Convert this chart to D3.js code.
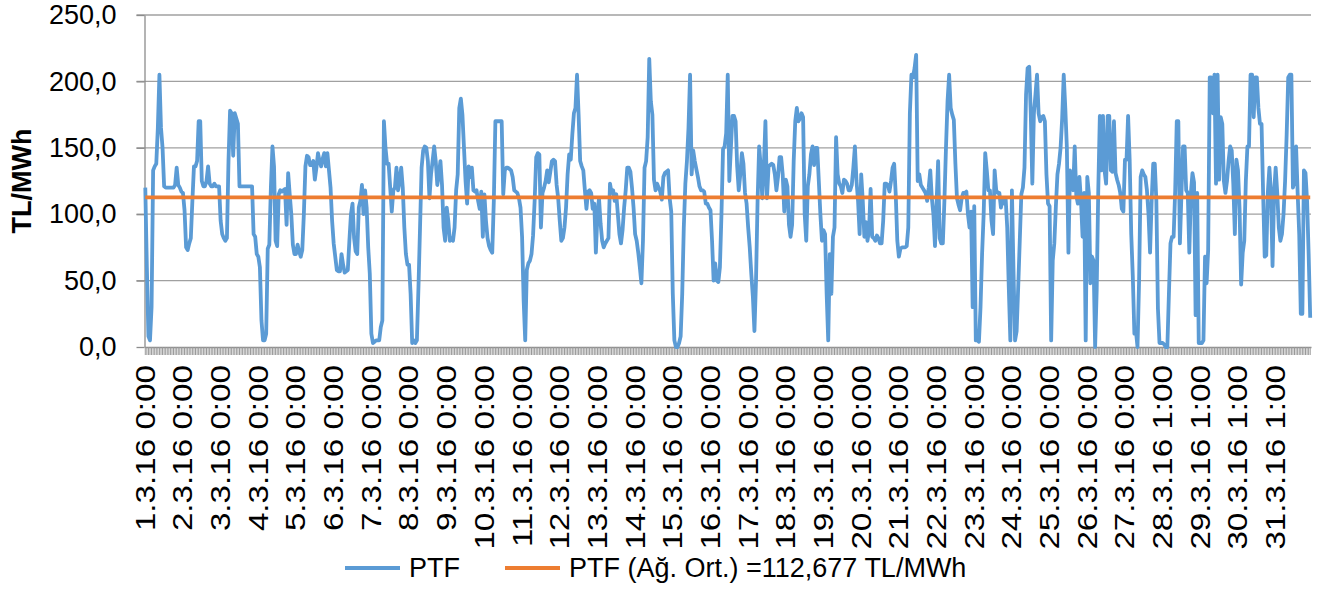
<!DOCTYPE html>
<html>
<head>
<meta charset="utf-8">
<script src="https://cdn.jsdelivr.net/npm/d3@7"></script>
<style>
  body { margin: 0; background: #fff; }
  text { font-family: "Liberation Sans", Arial, sans-serif; fill: #000; }
</style>
</head>
<body>
<div id="chart"></div>
<script>
// hourly PTF, March 2016 (one row per 24 categories, 27.3 has 23 hours)
const ptf = [
  120, 60, 8, 5, 30, 133, 136, 138, 165, 205, 165, 150, 121, 120, 120, 120, 120, 120, 120, 122, 135, 122, 120, 117,
  116, 103, 75, 73, 78, 82, 110, 136, 136, 140, 170, 170, 125, 121, 121, 125, 136, 123, 121, 121, 123, 121, 121, 121,
  95, 85, 82, 80, 82, 140, 178, 176, 144, 176, 172, 168, 121, 121, 121, 121, 121, 121, 121, 121, 121, 85, 83, 70,
  68, 60, 20, 5, 5, 10, 74, 77, 120, 151, 136, 80, 76, 115, 118, 117, 118, 119, 92, 131, 115, 100, 77, 70,
  70, 77, 72, 68, 73, 100, 136, 144, 143, 137, 137, 140, 126, 135, 146, 140, 136, 142, 146, 136, 146, 133, 120, 95,
  78, 68, 58, 57, 57, 70, 62, 56, 57, 58, 80, 100, 108, 82, 72, 70, 105, 110, 122, 100, 118, 105, 75, 55,
  10, 3, 4, 5, 5, 5, 15, 20, 170, 150, 138, 138, 120, 102, 118, 120, 135, 118, 125, 135, 120, 90, 70, 62,
  62, 40, 3, 5, 3, 5, 45, 90, 135, 148, 151, 150, 140, 112, 130, 140, 151, 140, 122, 130, 140, 122, 90, 80,
  105, 95, 80, 82, 80, 90, 118, 130, 180, 187, 175, 150, 125, 108, 136, 128, 135, 118, 117, 118, 110, 104, 117, 83,
  115, 95, 82, 76, 73, 71, 110, 170, 170, 170, 170, 170, 115, 133, 135, 135, 134, 133, 128, 118, 117, 116, 112, 105,
  83, 35, 5, 58, 63, 65, 70, 84, 110, 143, 146, 145, 90, 116, 120, 125, 133, 124, 132, 140, 141, 140, 122, 112,
  95, 80, 82, 90, 105, 130, 145, 141, 160, 176, 180, 205, 175, 140, 136, 133, 118, 104, 117, 118, 116, 104, 108, 71,
  100, 112, 93, 80, 75, 78, 80, 82, 123, 116, 118, 110, 115, 100, 85, 78, 88, 105, 118, 135, 135, 132, 120, 105,
  85, 80, 71, 60, 48, 80, 135, 140, 158, 217, 185, 175, 126, 118, 123, 120, 117, 111, 128, 131, 132, 133, 112, 102,
  40, 5, 0, 0, 3, 8, 40, 90, 123, 140, 165, 205, 130, 148, 140, 134, 128, 121, 118, 118, 117, 108, 108, 105,
  103, 80, 50, 63, 50, 49, 60, 100, 149, 151, 161, 205, 125, 150, 174, 174, 170, 136, 118, 130, 146, 138, 116, 108,
  90, 75, 55, 38, 12, 50, 110, 151, 136, 112, 136, 170, 112, 136, 137, 138, 137, 130, 118, 128, 143, 143, 130, 102,
  126, 121, 92, 83, 92, 140, 170, 180, 170, 172, 176, 173, 100, 80, 121, 130, 145, 151, 137, 150, 150, 125, 100, 80,
  88, 85, 40, 5, 70, 40, 83, 90, 158, 130, 123, 121, 116, 126, 125, 123, 118, 118, 122, 135, 151, 125, 110, 85,
  130, 110, 83, 94, 80, 88, 119, 83, 82, 80, 84, 82, 78, 78, 95, 123, 123, 122, 117, 125, 135, 138, 115, 80,
  68, 74, 75, 75, 75, 76, 90, 176, 205, 203, 210, 220, 125, 130, 122, 120, 118, 116, 110, 120, 133, 112, 100, 76,
  108, 140, 82, 78, 78, 110, 150, 185, 205, 180, 175, 171, 138, 112, 107, 103, 112, 116, 116, 117, 100, 90, 102, 30,
  106, 5, 5, 4, 30, 70, 100, 146, 133, 118, 118, 95, 85, 133, 118, 116, 116, 105, 112, 108, 112, 90, 45, 5,
  118, 58, 5, 12, 45, 80, 115, 120, 135, 190, 210, 211, 176, 123, 176, 190, 205, 176, 170, 173, 174, 170, 130, 108,
  106, 5, 65, 78, 106, 130, 138, 150, 172, 205, 180, 150, 71, 133, 122, 118, 151, 114, 108, 128, 110, 83, 116, 5,
  128, 116, 48, 68, 65, 0, 43, 118, 174, 133, 174, 133, 123, 174, 174, 133, 132, 170, 131, 126, 122, 116, 104, 102,
  141, 141, 174, 141, 85, 53, 10, 12, 0, 50, 128, 133, 130, 128, 118, 100, 71, 110, 138, 138, 110, 29, 3,
  3, 3, 2, 0, 0, 40, 78, 83, 83, 118, 170, 170, 78, 116, 151, 151, 118, 116, 71, 116, 131, 124, 24, 116,
  3, 3, 3, 5, 68, 48, 73, 203, 203, 176, 205, 123, 205, 126, 173, 168, 125, 116, 125, 140, 151, 148, 123, 85,
  141, 133, 104, 47, 71, 80, 125, 151, 151, 205, 205, 173, 203, 203, 180, 168, 168, 116, 68, 69, 116, 135, 116, 61,
  116, 135, 116, 90, 80, 85, 100, 125, 160, 203, 205, 205, 120, 125, 151, 116, 85, 25, 25, 133, 131, 110, 70, 22
];
const ptfAvg = 112.677;

// one label every 24 categories
const tickLabels = [
  "1.3.16 0:00", "2.3.16 0:00", "3.3.16 0:00", "4.3.16 0:00", "5.3.16 0:00", "6.3.16 0:00",
  "7.3.16 0:00", "8.3.16 0:00", "9.3.16 0:00", "10.3.16 0:00", "11.3.16 0:00", "12.3.16 0:00",
  "13.3.16 0:00", "14.3.16 0:00", "15.3.16 0:00", "16.3.16 0:00", "17.3.16 0:00", "18.3.16 0:00",
  "19.3.16 0:00", "20.3.16 0:00", "21.3.16 0:00", "22.3.16 0:00", "23.3.16 0:00", "24.3.16 0:00",
  "25.3.16 0:00", "26.3.16 0:00", "27.3.16 0:00", "28.3.16 1:00", "29.3.16 1:00", "30.3.16 1:00",
  "31.3.16 1:00"
];
const yTicks = [0, 50, 100, 150, 200, 250];

const width = 1320, height = 590;
const plot = { left: 144.5, right: 1311, top: 15, bottom: 347 };

const svg = d3.select("#chart")
  .append("svg")
  .attr("width", width)
  .attr("height", height);

const x = d3.scaleBand()
  .domain(d3.range(ptf.length))
  .range([plot.left, plot.right]);
const y = d3.scaleLinear()
  .domain([0, 250])
  .range([plot.bottom, plot.top]);
const cx = i => x(i) + x.bandwidth() / 2;
const fmt = v => d3.format(".1f")(v).replace(".", ",");

// horizontal gridlines (with the small outside tick on the left)
svg.append("g")
  .selectAll("line")
  .data(yTicks.slice(1))
  .join("line")
  .attr("x1", plot.left - 8)
  .attr("x2", plot.right)
  .attr("y1", d => y(d))
  .attr("y2", d => y(d))
  .attr("stroke", "#a0a0a0")
  .attr("stroke-width", 1.3);

// y axis
const yAxis = svg.append("g")
  .attr("transform", `translate(${plot.left},0)`)
  .call(d3.axisLeft(y).tickValues(yTicks).tickSize(8).tickSizeOuter(0).tickPadding(20).tickFormat(fmt));
yAxis.select(".domain").attr("stroke", "#8c8c8c").attr("stroke-width", 1.3);
yAxis.selectAll(".tick line").attr("stroke", "#8c8c8c").attr("stroke-width", 1.3);
yAxis.selectAll(".tick text").style("font-size", "27px");

// x axis: a tick for every hour
const xTicks = svg.append("g")
  .attr("transform", `translate(0,${plot.bottom})`)
  .call(d3.axisBottom(x).tickValues(d3.range(ptf.length)).tickSize(8).tickSizeOuter(0).tickFormat(""));
xTicks.select(".domain").attr("stroke", "#8c8c8c").attr("stroke-width", 1.3);
xTicks.selectAll(".tick line").attr("stroke", "#999").attr("stroke-width", 1);

// x labels every 24 categories, rotated (stretched along the text like the original)
svg.append("g")
  .selectAll("text")
  .data(tickLabels)
  .join("text")
  .attr("transform", (d, k) => `translate(${cx(k * 24)},365) rotate(-90) scale(1.23,1)`)
  .attr("dy", "0.35em")
  .attr("text-anchor", "end")
  .style("font-size", "27px")
  .text(d => d);

// y title
svg.append("text")
  .attr("transform", `translate(22,${(plot.top + plot.bottom) / 2}) rotate(-90)`)
  .attr("dy", "0.35em")
  .attr("text-anchor", "middle")
  .style("font-size", "27px")
  .style("font-weight", "bold")
  .text("TL/MWh");

// PTF line
const line = d3.line()
  .x((d, i) => cx(i))
  .y(d => y(d));

svg.append("path")
  .datum(ptf)
  .attr("d", line)
  .attr("fill", "none")
  .attr("stroke", "#5B9BD5")
  .attr("stroke-width", 3.8)
  .attr("stroke-linejoin", "round");

// weighted average line
svg.append("path")
  .datum(ptf.map(() => ptfAvg))
  .attr("d", line)
  .attr("fill", "none")
  .attr("stroke", "#ED7D31")
  .attr("stroke-width", 3.8);

// legend
const legend = [
  { label: "PTF", color: "#5B9BD5", x: 345 },
  { label: "PTF (Ağ. Ort.) =112,677 TL/MWh", color: "#ED7D31", x: 505 }
];
const lg = svg.append("g").selectAll("g").data(legend).join("g")
  .attr("transform", d => `translate(${d.x},568)`);
lg.append("line")
  .attr("x1", 0).attr("x2", 55)
  .attr("stroke", d => d.color)
  .attr("stroke-width", 3.8);
lg.append("text")
  .attr("x", 64)
  .attr("dy", "0.35em")
  .style("font-size", "27px")
  .text(d => d.label);
</script>
</body>
</html>
